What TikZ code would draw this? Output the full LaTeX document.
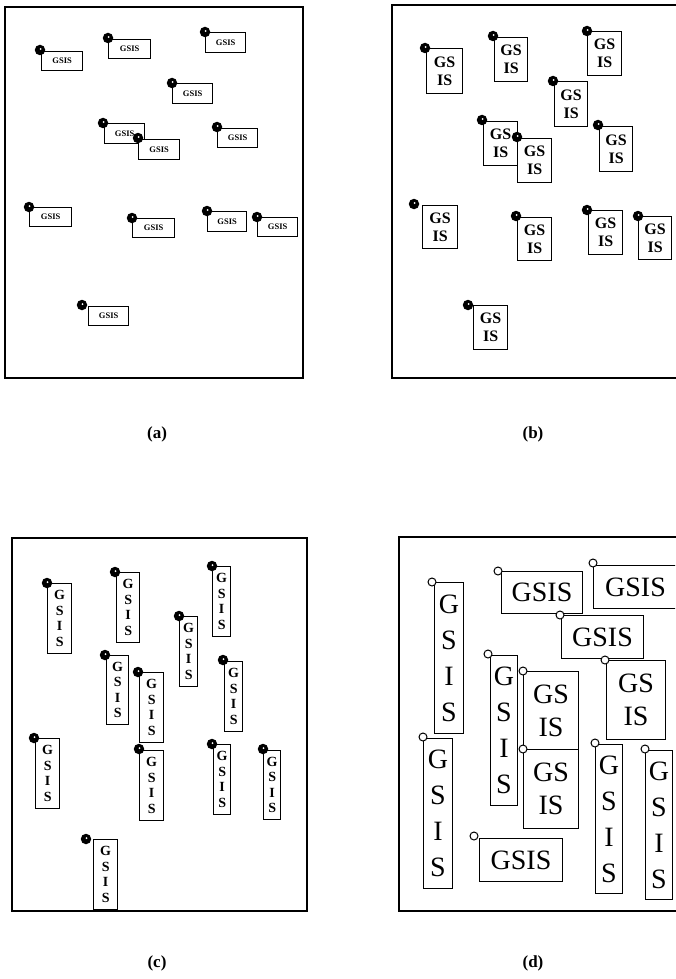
\documentclass[tikz,border=0pt]{standalone}
\usepackage{fontspec}
\newfontfamily\tnr{Liberation Serif}
\tikzset{
  frame/.style={draw, line width=2pt},
  gbase/.style={draw, fill=white, inner sep=0pt, anchor=north west, align=center},
  boxa/.style={gbase, line width=1.3pt, font=\tnr\bfseries\fontsize{8.5}{9}\selectfont},
  boxb/.style={gbase, line width=1.3pt, font=\tnr\bfseries\fontsize{16}{18}\selectfont},
  boxc/.style={gbase, line width=1.3pt, font=\tnr\bfseries\fontsize{14}{15.5}\selectfont},
  boxd/.style={gbase, line width=1pt, font=\tnr\fontsize{28}{33}\selectfont},
  boxdv/.style={gbase, line width=1pt, font=\tnr\fontsize{28}{36}\selectfont},
  dotk/.style={circle, fill=black, inner sep=0pt, minimum size=10.5pt,
    path picture={\fill[white] ([shift={(0.6pt,0.9pt)}]path picture bounding box.center) circle (1pt);}},
  dotd/.style={circle, draw, fill=white, line width=1pt, inner sep=0pt, minimum size=8pt,
    path picture={\fill ([shift={(0.5pt,0.5pt)}]path picture bounding box.center) circle (1pt);}},
  lab/.style={font=\tnr\bfseries\fontsize{17}{17}\selectfont}
}
\begin{document}
\begin{tikzpicture}[x=1pt,y=-1pt]
\useasboundingbox (0,0) rectangle (675,979);
% frames
\draw[frame] (5,7) rectangle (303,378);
\draw[frame] (392,5) rectangle (680,378);
\draw[frame] (12,538) rectangle (307,911);
\draw[frame] (399,537) rectangle (680,911);
\begin{scope}
\clip (0,0) rectangle (675,979);
% ---------- panel (a)
\node[boxa, minimum width=41pt, minimum height=19pt] (a1) at (41,51) {GSIS};
\node[dotk] (a1p) at (40,50) {};
\node[boxa, minimum width=42pt, minimum height=19pt] (a2) at (108,39) {GSIS};
\node[dotk] (a2p) at (108,38) {};
\node[boxa, minimum width=40pt, minimum height=20pt] (a3) at (205,32) {GSIS};
\node[dotk] (a3p) at (205,32) {};
\node[boxa, minimum width=40pt, minimum height=20pt] (a4) at (172,83) {GSIS};
\node[dotk] (a4p) at (172,83) {};
\node[boxa, minimum width=40pt, minimum height=20pt] (a5) at (104,123) {GSIS};
\node[dotk] (a5p) at (103,123) {};
\node[boxa, minimum width=41pt, minimum height=20pt] (a6) at (138,139) {GSIS};
\node[dotk] (a6p) at (138,138) {};
\node[boxa, minimum width=40pt, minimum height=19pt] (a7) at (217,128) {GSIS};
\node[dotk] (a7p) at (217,127) {};
\node[boxa, minimum width=42pt, minimum height=19pt] (a8) at (29,207) {GSIS};
\node[dotk] (a8p) at (29,207) {};
\node[boxa, minimum width=42pt, minimum height=19pt] (a9) at (132,218) {GSIS};
\node[dotk] (a9p) at (132,218) {};
\node[boxa, minimum width=39pt, minimum height=20pt] (a10) at (207,211) {GSIS};
\node[dotk] (a10p) at (207,211) {};
\node[boxa, minimum width=40pt, minimum height=19pt] (a11) at (257,217) {GSIS};
\node[dotk] (a11p) at (257,217) {};
\node[boxa, minimum width=40pt, minimum height=19pt] (a12) at (88,306) {GSIS};
\node[dotk] (a12p) at (82,305) {};
% ---------- panel (b)
\node[boxb, minimum width=36pt, minimum height=45pt] (b1) at (426,48) {GS\\IS};
\node[dotk] (b1p) at (425,48) {};
\node[boxb, minimum width=33pt, minimum height=44pt] (b2) at (494,37) {GS\\IS};
\node[dotk] (b2p) at (493,36) {};
\node[boxb, minimum width=34pt, minimum height=44pt] (b3) at (587,31) {GS\\IS};
\node[dotk] (b3p) at (587,31) {};
\node[boxb, minimum width=33pt, minimum height=45pt] (b4) at (554,81) {GS\\IS};
\node[dotk] (b4p) at (553,81) {};
\node[boxb, minimum width=34pt, minimum height=44pt] (b5) at (483,121) {GS\\IS};
\node[dotk] (b5p) at (482,120) {};
\node[boxb, minimum width=34pt, minimum height=44pt] (b6) at (517,138) {GS\\IS};
\node[dotk] (b6p) at (517,137) {};
\node[boxb, minimum width=33pt, minimum height=45pt] (b7) at (599,126) {GS\\IS};
\node[dotk] (b7p) at (598,125) {};
\node[boxb, minimum width=35pt, minimum height=43pt] (b8) at (422,205) {GS\\IS};
\node[dotk] (b8p) at (414,204) {};
\node[boxb, minimum width=34pt, minimum height=43pt] (b9) at (517,217) {GS\\IS};
\node[dotk] (b9p) at (516,216) {};
\node[boxb, minimum width=34pt, minimum height=44pt] (b10) at (588,210) {GS\\IS};
\node[dotk] (b10p) at (587,210) {};
\node[boxb, minimum width=33pt, minimum height=43pt] (b11) at (638,216) {GS\\IS};
\node[dotk] (b11p) at (638,216) {};
\node[boxb, minimum width=34pt, minimum height=44pt] (b12) at (473,305) {GS\\IS};
\node[dotk] (b12p) at (468,305) {};
% ---------- panel (c)
\node[boxc, minimum width=24pt, minimum height=70pt] (c1) at (47,583) {G\\S\\I\\S};
\node[dotk] (c1p) at (47,583) {};
\node[boxc, minimum width=23pt, minimum height=70pt] (c2) at (116,572) {G\\S\\I\\S};
\node[dotk] (c2p) at (115,572) {};
\node[boxc, minimum width=18pt, minimum height=70pt] (c3) at (212,566) {G\\S\\I\\S};
\node[dotk] (c3p) at (212,566) {};
\node[boxc, minimum width=18pt, minimum height=70pt] (c4) at (179,616) {G\\S\\I\\S};
\node[dotk] (c4p) at (179,616) {};
\node[boxc, minimum width=22pt, minimum height=69pt] (c5) at (106,655) {G\\S\\I\\S};
\node[dotk] (c5p) at (105,655) {};
\node[boxc, minimum width=24pt, minimum height=70pt] (c6) at (139,672) {G\\S\\I\\S};
\node[dotk] (c6p) at (138,672) {};
\node[boxc, minimum width=18pt, minimum height=70pt] (c7) at (224,661) {G\\S\\I\\S};
\node[dotk] (c7p) at (223,660) {};
\node[boxc, minimum width=24pt, minimum height=70pt] (c8) at (35,738) {G\\S\\I\\S};
\node[dotk] (c8p) at (34,738) {};
\node[boxc, minimum width=24pt, minimum height=70pt] (c9) at (139,750) {G\\S\\I\\S};
\node[dotk] (c9p) at (139,749) {};
\node[boxc, minimum width=17pt, minimum height=70pt] (c10) at (213,744) {G\\S\\I\\S};
\node[dotk] (c10p) at (212,744) {};
\node[boxc, minimum width=17pt, minimum height=69pt] (c11) at (263,750) {G\\S\\I\\S};
\node[dotk] (c11p) at (263,749) {};
\node[boxc, minimum width=24pt, minimum height=70pt] (c12) at (93,839) {G\\S\\I\\S};
\node[dotk] (c12p) at (86,839) {};
% ---------- panel (d)
\node[boxdv, minimum width=29pt, minimum height=151pt] (d1) at (434,582) {G\\S\\I\\S};
\node[dotd] (d1p) at (432,582) {};
\node[boxd, minimum width=81pt, minimum height=42pt] (d2) at (501,571) {GSIS};
\node[dotd] (d2p) at (498,571) {};
\node[boxd, minimum width=84pt, minimum height=43pt] (d3) at (593,565) {GSIS};
\node[dotd] (d3p) at (593,563) {};
\node[boxd, minimum width=82pt, minimum height=43pt] (d4) at (561,615) {GSIS};
\node[dotd] (d4p) at (560,615) {};
\node[boxd, minimum width=59pt, minimum height=79pt] (d5) at (606,660) {GS\\IS};
\node[dotd] (d5p) at (605,660) {};
\node[boxdv, minimum width=27pt, minimum height=150pt] (d6) at (490,655) {G\\S\\I\\S};
\node[dotd] (d6p) at (488,654) {};
\node[boxd, minimum width=55pt, minimum height=79pt] (d7) at (523,671) {GS\\IS};
\node[dotd] (d7p) at (523,671) {};
\node[boxd, minimum width=55pt, minimum height=79pt] (d8) at (523,749) {GS\\IS};
\node[dotd] (d8p) at (523,749) {};
\node[boxdv, minimum width=29pt, minimum height=150pt] (d9) at (423,738) {G\\S\\I\\S};
\node[dotd] (d9p) at (423,737) {};
\node[boxd, minimum width=83pt, minimum height=43pt] (d10) at (479,838) {GSIS};
\node[dotd] (d10p) at (474,836) {};
\node[boxdv, minimum width=27pt, minimum height=149pt] (d11) at (595,744) {G\\S\\I\\S};
\node[dotd] (d11p) at (595,743) {};
\node[boxdv, minimum width=27pt, minimum height=149pt] (d12) at (645,750) {G\\S\\I\\S};
\node[dotd] (d12p) at (645,749) {};
\end{scope}
% labels
\node[lab] (la) at (157,434) {(a)};
\node[lab] (lb) at (533,434) {(b)};
\node[lab] (lc) at (157,963) {(c)};
\node[lab] (ld) at (533,963) {(d)};
\end{tikzpicture}
\end{document}
